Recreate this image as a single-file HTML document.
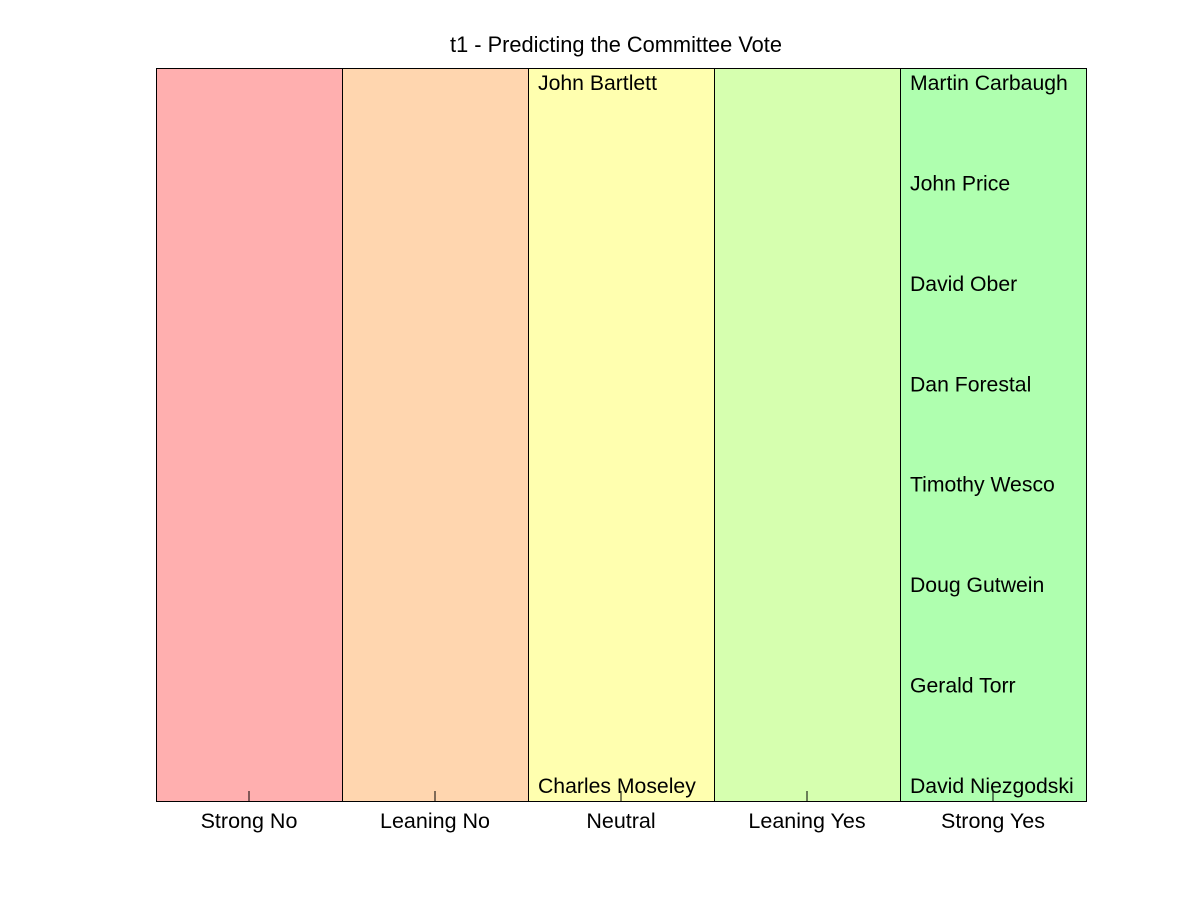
<!DOCTYPE html>
<html><head><meta charset="utf-8">
<style>
body{margin:0;background:#fff;}
svg text{font-family:"Liberation Sans",Arial,sans-serif;}
</style></head>
<body>
<svg id="chart" width="1200" height="900" xmlns="http://www.w3.org/2000/svg">
<rect width="1200" height="900" fill="#fff"/>
<text x="616" y="52" text-anchor="middle" font-size="21.8">t1 - Predicting the Committee Vote</text>
<g id="cols"></g>
<g id="names"></g>
<g id="ticks"></g>
<rect x="156.5" y="68.5" width="930" height="733" fill="none" stroke="#000" stroke-width="1"/>
</svg>
<script>
const categories = ["Strong No","Leaning No","Neutral","Leaning Yes","Strong Yes"];
const colors = ["#ffafaf","#ffd6af","#ffffaf","#d6ffaf","#afffaf"];
const namesStrongNo = [];
const namesLeaningNo = [];
const namesNeutral = ["John Bartlett","Charles Moseley"];
const namesLeaningYes = [];
const namesStrongYes = ["Martin Carbaugh","John Price","David Ober","Dan Forestal","Timothy Wesco","Doug Gutwein","Gerald Torr","David Niezgodski"];
const groups = [namesStrongNo,namesLeaningNo,namesNeutral,namesLeaningYes,namesStrongYes];

const L=156, R=1086, T=68, B=801;
const colW=(R-L)/categories.length;
const xScale=i=>L+i*colW;
const yName=(j,n)=> n<=1 ? T+22 : (T+22)+j*((B-8)-(T+22))/(n-1);
const NS="http://www.w3.org/2000/svg";
const mk=(t,a)=>{const e=document.createElementNS(NS,t);for(const k in a)e.setAttribute(k,a[k]);return e;};
const cols=document.getElementById('cols'),names=document.getElementById('names'),ticks=document.getElementById('ticks');
categories.forEach((c,i)=>{
  const r=mk('rect',{x:xScale(i)+0.5,y:T+0.5,width:colW,height:B-T,fill:colors[i],stroke:'#000','stroke-width':1});
  
  
  cols.appendChild(r);
  const cx=xScale(i)+colW/2;
  const tk=mk('line',{x1:cx,x2:cx,y1:B,y2:B-10,stroke:'#000','stroke-width':1});
  
  
  ticks.appendChild(tk);
  const lb=mk('text',{x:cx,y:B+27,'text-anchor':'middle','font-size':21.5});
  lb.textContent=c;
  
  
  ticks.appendChild(lb);
  groups[i].forEach((nm,j)=>{
    const t=mk('text',{x:xScale(i)+10,y:yName(j,groups[i].length)+0,'font-size':21.2});
    t.textContent=nm;
    
    
    names.appendChild(t);
  });
});
</script>
</body></html>
